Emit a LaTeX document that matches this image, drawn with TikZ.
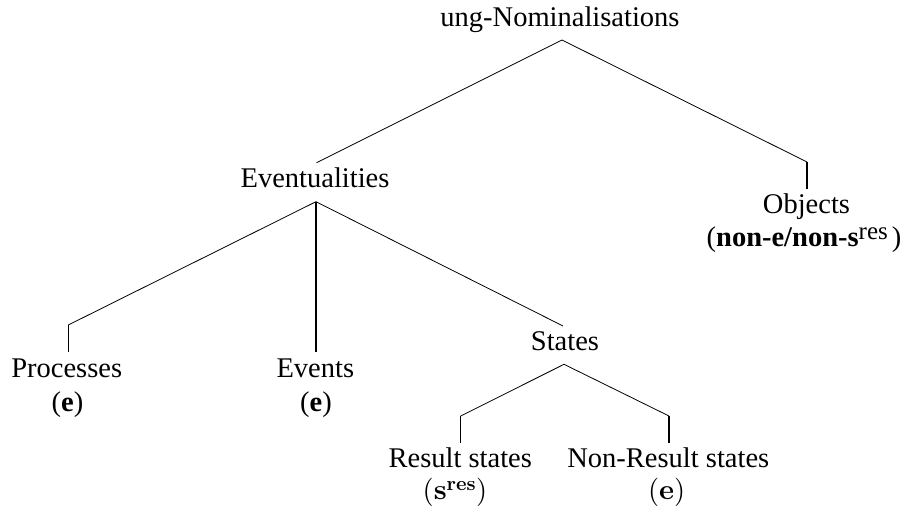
\documentclass[tikz,border=0pt]{standalone}
\usepackage{fontspec}
\setmainfont{Liberation Serif}
\newfontfamily\lmfont{lmroman10}[Extension=.otf,UprightFont=*-regular,BoldFont=*-bold]
\begin{document}
\begin{tikzpicture}[x=1pt,y=-1pt,
  every node/.style={inner sep=0pt, font=\fontsize{28.5}{34}\selectfont},
  txt/.style={anchor=base},
  branch/.style={line width=0.8pt},
  stem/.style={line width=1.5pt},
  thickbranch/.style={line width=2.2pt}]
\useasboundingbox (0,0) rectangle (908,510);
% nodes
\node[txt] (root) at (560,27) {ung-Nominalisations};
\node[txt] (ev) at (315,188) {Eventualities};
\node[txt] (obj) at (806.5,214) {Objects};
\node[txt] (objann) at (804,247) {(\textbf{non-e/non-s}\raisebox{7pt}{\fontsize{25}{30}\selectfont res}\kern4pt)};
\node[txt] (proc) at (66.7,377.7) {Processes};
\node[txt] (procann) at (67.5,412) {(\textbf{e})};
\node[txt] (evt) at (315.3,377.7) {Events};
\node[txt] (evtann) at (316,412) {(\textbf{e})};
\node[txt] (st) at (565,350.7) {States};
\node[txt] (res) at (460.3,467.7) {Result states};
\node[txt] (resann) at (455,500) {\lmfont(\textbf{s}\textsuperscript{\textbf{res}})};
\node[txt] (nres) at (668.3,467.7) {Non-Result states};
\node[txt] (nresann) at (666.7,500) {\lmfont(\textbf{e})};
% branch points
\coordinate (rootapex) at (562,40);
\coordinate (evend) at (316.5,162.7);
\coordinate (objknee) at (807,162);
\coordinate (objend) at (807,189.5);
\coordinate (evapex) at (316,201.7);
\coordinate (procknee) at (68.3,325);
\coordinate (procend) at (68.3,352);
\coordinate (evtend) at (316,352);
\coordinate (stend) at (563,326);
\coordinate (stapex) at (564,364.3);
\coordinate (resknee) at (460.7,416);
\coordinate (resend) at (460.7,443.3);
\coordinate (nresknee) at (669,416);
\coordinate (nresend) at (669,443.3);
% connectors
\draw[branch] (rootapex) -- (evend);
\draw[branch] (rootapex) -- (objknee);
\draw[stem] (objknee) -- (objend);
\draw[branch] (evapex) -- (procknee);
\draw[stem] (procknee) -- (procend);
\draw[thickbranch] (evapex) -- (evtend);
\draw[branch] (evapex) -- (stend);
\draw[branch] (stapex) -- (resknee);
\draw[stem] (resknee) -- (resend);
\draw[branch] (stapex) -- (nresknee);
\draw[stem] (nresknee) -- (nresend);
\end{tikzpicture}
\end{document}
